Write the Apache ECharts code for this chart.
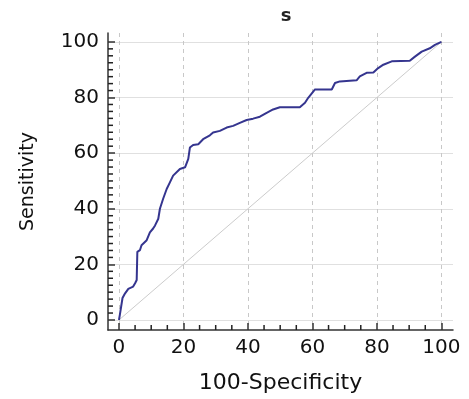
<!DOCTYPE html>
<html>
<head>
<meta charset="utf-8">
<script src="https://cdn.jsdelivr.net/npm/echarts@6/dist/echarts.min.js"></script>
<style>html,body{margin:0;padding:0;background:#fff}#c{width:469px;height:399px}</style>
</head>
<body>
<div id="c"></div>
<script>
// ROC curve points
var fpr = [0,0.3,1.1,1.9,2.9,4.4,5,5.5,5.7,6.5,7,8.6,9.6,10.6,11.2,12.2,12.7,13.7,14.8,15.8,16.8,18.9,20.5,21.5,22,23,24.6,26.1,28.2,29.2,31.3,33.4,35.4,37.5,39.6,41.6,43.7,45.8,47.8,49.9,56.1,57.7,58.7,60.8,66,67,68.5,73.7,74.7,76.8,78.9,80.4,82,84.6,90.2,91.8,93.9,96.4,98,100];
var tpr = [0,2,7.9,9.6,11.2,12,13.2,14.4,24.5,25.1,26.9,28.7,31.5,32.9,34,36.4,40,43.6,47.1,49.5,51.9,54.3,54.9,57.9,62,62.9,63.2,65,66.4,67.4,68,69.2,69.8,70.9,71.9,72.4,73.1,74.5,75.7,76.5,76.5,78.1,79.9,82.9,82.9,85.2,85.8,86.2,87.6,88.9,89,90.6,91.8,93,93.2,94.7,96.5,97.7,98.9,100];
var diagX = [0,100];
var diagY = [0,100];
var xTicks = [0,20,40,60,80,100];
var yTicks = [0,20,40,60,80,100];
var xMinorTicks = [5,10,15,25,30,35,45,50,55,65,70,75,85,90,95];
var yMinorTicks = [2.5,5,7.5,10,12.5,15,17.5,22.5,25,27.5,30,32.5,35,37.5,42.5,45,47.5,50,52.5,55,57.5,62.5,65,67.5,70,72.5,75,77.5,82.5,85,87.5,90,92.5,95,97.5];
var titleText = 's';
var xName = '100-Specificity';
var yName = 'Sensitivity';

var XMIN = -3.4, XMAX = 103.6, YMIN = -3.6, YMAX = 103.2;
var FONT = 'DejaVu Sans';
var chart = echarts.init(document.getElementById('c'));
function pairs(a, b) { return a.map(function (v, i) { return [v, b[i]]; }); }

chart.setOption({
  animation: false,
  backgroundColor: '#fff',
  title: {
    text: titleText, left: 281, top: 2, textAlign: 'center',
    textStyle: { fontFamily: FONT, fontSize: 18, fontWeight: 'bold', color: '#222' }
  },
  grid: { left: 108, right: 16, top: 33, bottom: 67 },
  xAxis: {
    type: 'value', min: XMIN, max: XMAX, position: 'bottom',
    name: xName, nameLocation: 'middle', nameGap: 42,
    nameTextStyle: { fontFamily: FONT, fontSize: 22, color: '#111' },
    axisLine: { show: true, onZero: false, lineStyle: { color: '#333', width: 1.5 } },
    axisTick: { show: true, inside: true, length: 7, customValues: xTicks, lineStyle: { color: '#333', width: 1.5 } },
    axisLabel: { show: true, customValues: xTicks, margin: 8, fontFamily: FONT, fontSize: 20, color: '#111' },
    splitLine: { show: true, lineStyle: { color: '#c8c8c8', type: [4, 4], width: 1 } }
  },
  yAxis: {
    type: 'value', min: YMIN, max: YMAX, position: 'left',
    name: yName, nameLocation: 'middle', nameGap: 70, nameRotate: 90,
    nameTextStyle: { fontFamily: FONT, fontSize: 19, color: '#111' },
    axisLine: { show: true, onZero: false, lineStyle: { color: '#333', width: 1.5 } },
    axisTick: { show: true, inside: true, length: 7, customValues: yTicks, lineStyle: { color: '#333', width: 1.5 } },
    axisLabel: { show: true, customValues: yTicks, margin: 9, fontFamily: FONT, fontSize: 20, color: '#111' },
    splitLine: { show: true, lineStyle: { color: '#e0e0e0', type: 'solid', width: 1 } }
  },
  series: [{
    type: 'line',
    data: pairs(diagX, diagY), showSymbol: false, silent: true,
    lineStyle: { color: '#cccccc', width: 1 }, z: 1
  }, {
    type: 'line',
    data: pairs(fpr, tpr), showSymbol: false,
    lineStyle: { color: '#35358f', width: 2 }, z: 3
  }, {
    // minor tick marks on the x axis line
    type: 'scatter', silent: true, clip: false, z: 4,
    data: xMinorTicks.map(function (v) { return [v, YMIN]; }),
    symbol: 'rect', symbolSize: [1.5, 5], symbolOffset: [0, -2.5],
    itemStyle: { color: '#222', opacity: 1 }
  }, {
    // minor tick marks on the y axis line
    type: 'scatter', silent: true, clip: false, z: 4,
    data: yMinorTicks.map(function (v) { return [XMIN, v]; }),
    symbol: 'rect', symbolSize: [5, 1.5], symbolOffset: [2.5, 0],
    itemStyle: { color: '#222', opacity: 1 }
  }]
});
</script>
</body>
</html>
